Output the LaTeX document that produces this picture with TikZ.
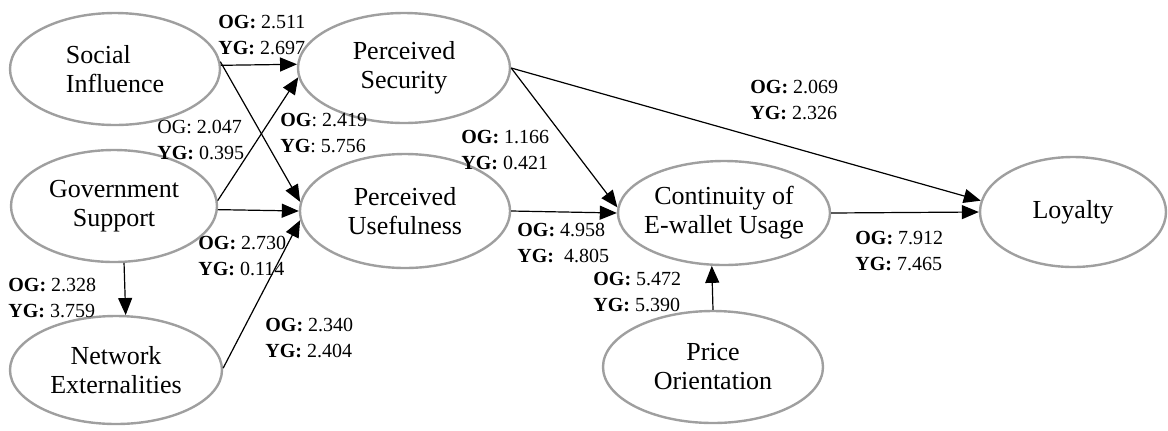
\documentclass[tikz,border=0pt]{standalone}
\usepackage{fontspec}
\setmainfont{Liberation Serif}
\usetikzlibrary{shapes.geometric,arrows.meta}

\begin{document}
\begin{tikzpicture}[x=0.5pt,y=0.5pt,
  construct/.style={ellipse, draw=gray!75, line width=1.2pt, inner xsep=-6pt, inner ysep=0pt,
    align=center, font=\fontsize{13}{14.5}\selectfont},
  link/.style={-{Triangle[length=8.5pt,width=7pt]}, line width=0.6pt},
  coef/.style={anchor=west, align=left, inner sep=0pt, font=\fontsize{10}{13}\selectfont}]
\useasboundingbox (0,0) rectangle (1168,-430);

% constructs
\node[construct, minimum width=105pt, minimum height=56pt, align=left] (si) at (115,-69) {Social\\Influence};
\node[construct, minimum width=106pt, minimum height=55pt] (ps) at (404,-68) {Perceived\\Security};
\node[construct, minimum width=103pt, minimum height=56pt] (gs) at (114,-206) {Government\\Support};
\node[construct, minimum width=105pt, minimum height=57pt] (pu) at (405,-211) {Perceived\\Usefulness};
\node[construct, minimum width=106pt, minimum height=54pt] (ne) at (116,-370) {Network\\Externalities};
\node[construct, minimum width=106pt, minimum height=52pt] (ceu) at (724,-213) {Continuity of\\E-wallet Usage};
\node[construct, minimum width=93pt, minimum height=55pt] (lo) at (1073,-212) {Loyalty};
\node[construct, minimum width=110pt, minimum height=56pt] (po) at (713,-367) {Price\\Orientation};

% paths
\draw[link] (si.2) -- (ps.178);
\draw[link] (si.4) -- (pu.175);
\draw[link] (gs.3) -- (ps.185);
\draw[link] (gs.-2) -- (pu.180);
\draw[link] (ne.1) -- (pu.185);
\draw[link] (gs.-80) -- (ne.80);
\draw[link] (ps.0) -- (ceu.177);
\draw[link] (ps.0) -- (lo.173);
\draw[link] (pu.0) -- (ceu.180);
\draw[link] (ceu.0) -- (lo.180);
\draw[link] (po.north) -- (ceu.-103);

% path coefficients
\node[coef] (k1) at (218,-35) {\textbf{OG:} 2.511\\\textbf{YG:} 2.697};
\node[coef] (k2) at (157,-140) {OG: 2.047\\\textbf{YG:} 0.395};
\node[coef] (k3) at (280,-133) {\textbf{OG}: 2.419\\\textbf{YG}: 5.756};
\node[coef] (k4) at (461,-150) {\textbf{OG:} 1.166\\\textbf{YG:} 0.421};
\node[coef] (k5) at (750,-100) {\textbf{OG:} 2.069\\\textbf{YG:} 2.326};
\node[coef] (k6) at (198,-256) {\textbf{OG:} 2.730\\\textbf{YG:} 0.114};
\node[coef] (k7) at (8,-298) {\textbf{OG:} 2.328\\\textbf{YG:} 3.759};
\node[coef] (k8) at (265,-338) {\textbf{OG:} 2.340\\\textbf{YG:} 2.404};
\node[coef] (k9) at (517,-243) {\textbf{OG:} 4.958\\\textbf{YG:}~~4.805};
\node[coef] (k10) at (593,-292) {\textbf{OG:} 5.472\\\textbf{YG:} 5.390};
\node[coef] (k11) at (855,-251) {\textbf{OG:} 7.912\\\textbf{YG:} 7.465};
\end{tikzpicture}
\end{document}
